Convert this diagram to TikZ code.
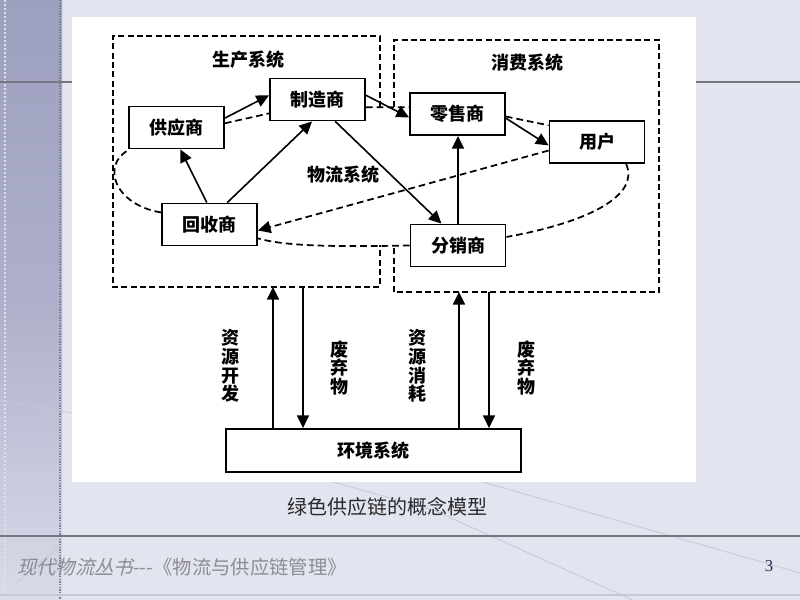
\documentclass[tikz,border=0pt]{standalone}
\usepackage{fontspec}
\setmainfont{Liberation Serif}
\newfontfamily\cjk{Noto Sans CJK SC}
\newfontfamily\cjkslant[FakeSlant=0.25]{Noto Sans CJK SC}
\usetikzlibrary{arrows.meta,calc}
\definecolor{bgc}{HTML}{E2E4EF}
\definecolor{stripA}{HTML}{9C9FBE}
\definecolor{stripB}{HTML}{AEB0CB}
\definecolor{stripC}{HTML}{D9DBE9}
\definecolor{rulec}{HTML}{75767F}
\definecolor{footc}{HTML}{8C8C92}
\definecolor{capc}{HTML}{2A2A2A}
\definecolor{numc}{HTML}{1F2A5A}
\definecolor{faint}{HTML}{C6C8D6}
\tikzset{
  box/.style={draw=black,line width=1.4pt,fill=white,minimum width=71.25pt,minimum height=31.5pt,inner sep=0pt,
    font=\cjk\bfseries\fontsize{13.5pt}{14pt}\selectfont},
  lbl/.style={inner sep=0pt,align=center,font=\cjk\bfseries\fontsize{13.5pt}{14pt}\selectfont},
  arr/.style={line width=1.2pt,-{Triangle[length=9.5pt,width=9pt]}},
  dsh/.style={line width=1.3pt,dash pattern=on 5pt off 3pt},
  sysbox/.style={line width=1.3pt,dash pattern=on 4.5pt off 2.5pt}
}
\begin{document}
\begin{tikzpicture}[x=0.75pt,y=-0.75pt]
\useasboundingbox (0,0) rectangle (800,600);
% background
\fill[bgc] (0,0) rectangle (800,600);
\shade[top color=stripA,bottom color=stripC,middle color=stripB] (0,0) rectangle (62,600);
\draw[line width=2.2pt,color=stripA!80!black,dash pattern=on 1pt off 1pt] (60,0) -- (60,600);
\draw[line width=1.5pt,color=stripC!90!white,dash pattern=on 1.5pt off 1.5pt] (5,0) -- (5,600);
\draw[faint,line width=0.6pt] (0,400) -- (72,413);
\draw[faint,line width=0.6pt] (483,482) -- (800,573);
\draw[faint,line width=0.6pt] (333,482) -- (433,510) -- (633,600);
\draw[faint,line width=0.6pt] (17,583) -- (60,545);
% rules
\draw[rulec,line width=1.5pt] (0,82) -- (800,82);
\draw[rulec,line width=1.5pt] (0,536) -- (800,536);
\draw[faint,line width=1pt] (0,595) -- (800,595);
% white image area
\fill[white] (72,17) rectangle (696,482);

% system boxes
\draw[sysbox] (380,107) -- (380,36) -- (113,36) -- (113,287) -- (380,287) -- (380,245);
\draw[sysbox] (394,107) -- (394,40) -- (659,40) -- (659,292) -- (394,292) -- (394,245);
\node[lbl] (tprod) at (248,60) {生产系统};
\node[lbl] (tcons) at (527,63) {消费系统};
\node[lbl] (tlog) at (343,175) {物流系统};

% nodes
\node[box] (gys) at (176.5,127.5) {供应商};
\node[box] (zzs) at (317.5,99.5) {制造商};
\node[box] (hss) at (209.5,224.5) {回收商};
\node[box] (lss) at (457.5,114) {零售商};
\node[box] (yh) at (597,142) {用户};
\node[box] (fxs) at (458,245.5) {分销商};
\node[box,minimum width=221.25pt,minimum height=32.25pt] (hj) at (373.5,450.5) {环境系统};

% dashed logistics loop
\draw[dsh] (gys.5) -- (zzs.196);
\draw[dsh] (zzs.-9) -- (lss.172);
\draw[dsh] (lss.-3) -- (yh.161);
\draw[dsh] (yh.-37) .. controls (640,195) and (590,222) .. (fxs.10);
\draw[dsh] (fxs.west) .. controls (330,247) and (285,246) .. (hss.-16);
\draw[dsh] (hss.166) .. controls (115,205) and (100,165) .. (gys.205);
\draw[dsh,-{Triangle[length=9.5pt,width=9pt]}] (yh.190) -- (hss.-7);

% solid flows
\draw[arr] (gys.11) -- (zzs.175);
\draw[arr] (hss.97) -- (gys.-80);
\draw[arr] (hss.51) -- (zzs.-104);
\draw[arr] (zzs.5) -- (lss.184);
\draw[arr] (zzs.-51) -- (fxs.127);
\draw[arr] (fxs.north) -- (fxs.north |- lss.south);
\draw[arr] (lss.-5) -- (yh.184);

% environment exchanges
\coordinate (pa) at (273,287);
\coordinate (pw) at (303,287);
\coordinate (ca) at (459,292);
\coordinate (cw) at (489,292);
\draw[arr] (pa |- hj.north) -- (pa);
\draw[arr] (pw) -- (pw |- hj.north);
\draw[arr] (ca |- hj.north) -- (ca);
\draw[arr] (cw) -- (cw |- hj.north);
\node[lbl] (l1) at (230.5,366) {资\\源\\开\\发};
\node[lbl] (l2) at (339,368) {废\\弃\\物};
\node[lbl] (l3) at (417.5,366) {资\\源\\消\\耗};
\node[lbl] (l4) at (526,368) {废\\弃\\物};

% caption and footer
\node[inner sep=0pt,text=capc,font=\cjk\fontsize{15pt}{16pt}\selectfont] (cap) at (387,507) {绿色供应链的概念模型};
\node[inner sep=0pt,anchor=west,text=footc,font=\fontsize{14.5pt}{16pt}\selectfont] (foot) at (17,567) {{\cjkslant 现代物流丛书}{\cjk ---《物流与供应链管理》}};
\node[inner sep=0pt,text=numc,font=\fontsize{12.5pt}{14pt}\selectfont] (num) at (769,566) {3};
\end{tikzpicture}
\end{document}
